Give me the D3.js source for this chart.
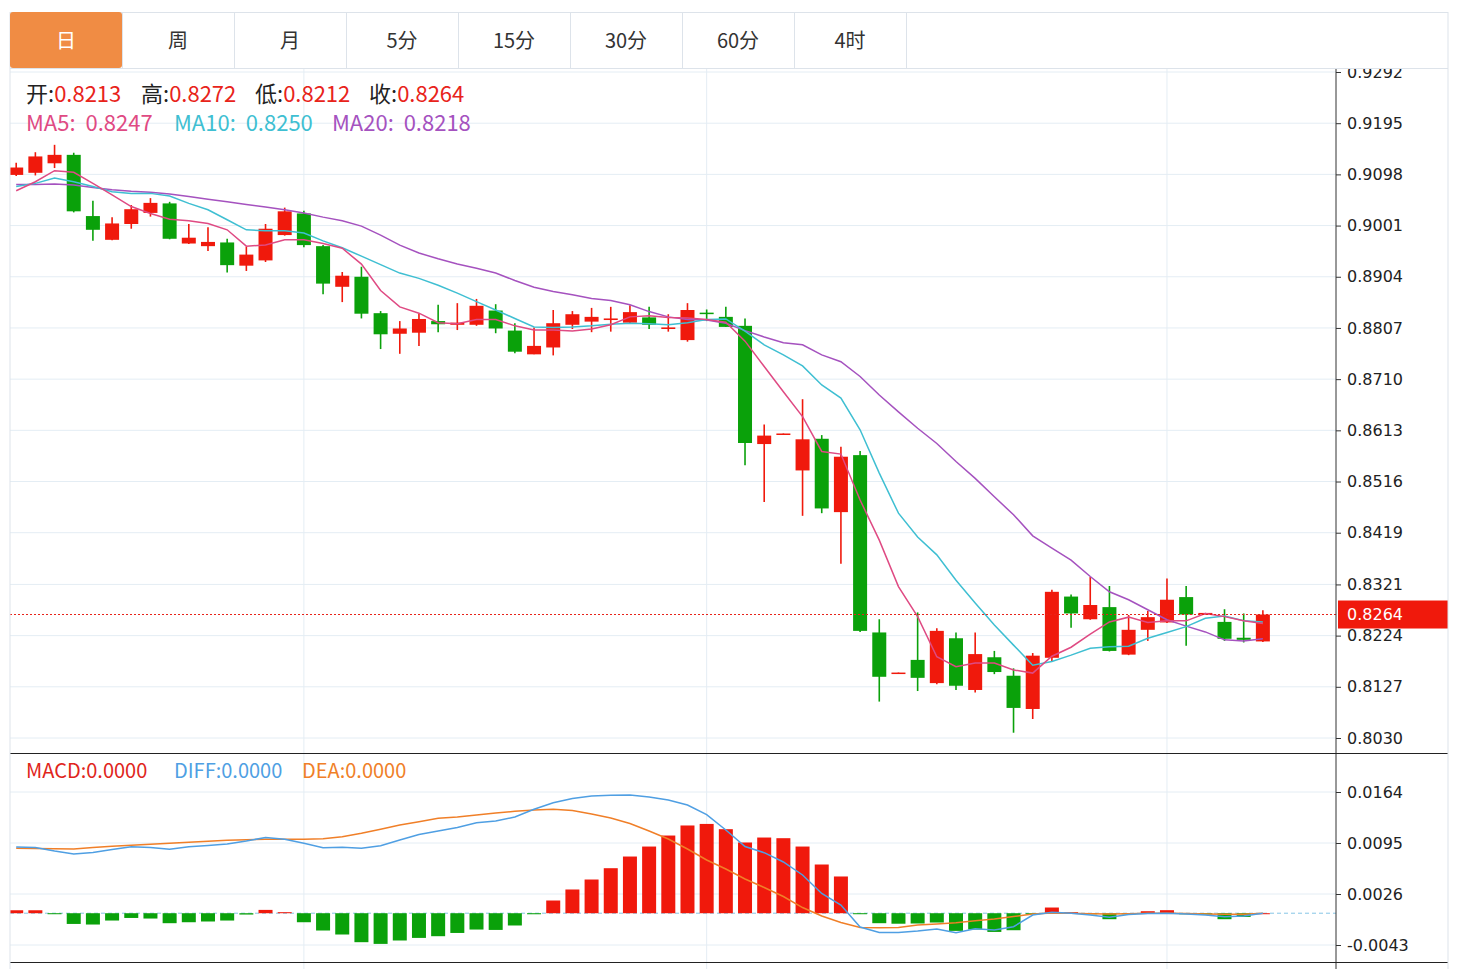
<!DOCTYPE html>
<html>
<head>
<meta charset="utf-8">
<script src="https://cdn.jsdelivr.net/npm/d3@7"></script>
<style>
  body { margin: 0; background: #fff; }
  svg { display: block; }
</style>
</head>
<body>
<script>
var tabs = ['日', '周', '月', '5分', '15分', '30分', '60分', '4时']

var opens = [0.9097,0.9101,0.9119,0.9135,0.9019,0.8974,0.9004,0.9025,0.9043,0.8967,
  0.8962,0.8969,0.8925,0.8935,0.8983,0.9024,0.8962,0.8885,0.8904,0.8835,
  0.8796,0.8798,0.8820,0.8813,0.8813,0.8840,0.8802,0.8757,0.8770,0.8813,
  0.8819,0.8822,0.8817,0.8827,0.8805,0.8784,0.8836,0.8828,0.8811,0.8587,
  0.8606,0.8537,0.8597,0.8458,0.8566,0.8230,0.8152,0.8178,0.8134,0.8219,
  0.8121,0.8183,0.8148,0.8085,0.8182,0.8298,0.8255,0.8278,0.8188,0.8235,
  0.8249,0.8297,0.8264,0.8250,0.8220,0.8213]
var highs = [0.9120,0.9140,0.9154,0.9139,0.9048,0.9017,0.9040,0.9053,0.9046,0.9004,
  0.8998,0.8976,0.8961,0.9004,0.9035,0.9029,0.8964,0.8913,0.8923,0.8839,
  0.8820,0.8834,0.8851,0.8854,0.8862,0.8852,0.8816,0.8808,0.8841,0.8839,
  0.8845,0.8847,0.8850,0.8847,0.8833,0.8854,0.8842,0.8847,0.8825,0.8624,
  0.8607,0.8672,0.8604,0.8582,0.8574,0.8255,0.8154,0.8268,0.8238,0.8230,
  0.8230,0.8195,0.8162,0.8191,0.8311,0.8302,0.8335,0.8318,0.8263,0.8271,
  0.8332,0.8318,0.8267,0.8274,0.8266,0.8272]
var lows = [0.9095,0.9096,0.9110,0.9026,0.8972,0.8973,0.8995,0.9018,0.8975,0.8966,
  0.8953,0.8912,0.8915,0.8932,0.8982,0.8960,0.8871,0.8856,0.8825,0.8767,
  0.8758,0.8773,0.8799,0.8803,0.8811,0.8797,0.8759,0.8757,0.8755,0.8805,
  0.8799,0.8800,0.8816,0.8805,0.8800,0.8781,0.8820,0.8809,0.8547,0.8477,
  0.8606,0.8451,0.8456,0.8360,0.8231,0.8099,0.8152,0.8119,0.8132,0.8121,
  0.8116,0.8151,0.8040,0.8066,0.8175,0.8239,0.8254,0.8194,0.8187,0.8214,
  0.8248,0.8205,0.8264,0.8214,0.8211,0.8212]
var closes = [0.9111,0.9132,0.9135,0.9028,0.8993,0.9005,0.9032,0.9044,0.8976,0.8978,
  0.8970,0.8926,0.8946,0.8995,0.9028,0.8964,0.8891,0.8906,0.8834,0.8795,
  0.8806,0.8824,0.8814,0.8817,0.8849,0.8806,0.8762,0.8773,0.8816,0.8833,
  0.8828,0.8825,0.8837,0.8813,0.8808,0.8841,0.8834,0.8809,0.8589,0.8603,
  0.8607,0.8596,0.8465,0.8563,0.8233,0.8146,0.8154,0.8144,0.8233,0.8129,
  0.8189,0.8155,0.8087,0.8186,0.8307,0.8266,0.8282,0.8195,0.8235,0.8259,
  0.8292,0.8264,0.8267,0.8218,0.8216,0.8264]

var ma5 = [0.9067,0.9084,0.9105,0.9102,0.9081,0.9059,0.9037,0.9024,0.9013,0.9010,
  0.9005,0.8993,0.8962,0.8964,0.8974,0.8974,0.8967,0.8958,0.8928,0.8878,
  0.8847,0.8835,0.8817,0.8815,0.8823,0.8823,0.8811,0.8803,0.8803,0.8801,
  0.8805,0.8813,0.8828,0.8830,0.8827,0.8826,0.8823,0.8818,0.8782,0.8734,
  0.8686,0.8639,0.8573,0.8568,0.8481,0.8405,0.8317,0.8260,0.8184,0.8165,
  0.8172,0.8172,0.8159,0.8153,0.8185,0.8202,0.8227,0.8250,0.8259,0.8249,
  0.8252,0.8252,0.8266,0.8260,0.8252,0.8247]
var ma10 = [0.9075,0.9081,0.9091,0.9084,0.9075,0.9065,0.9062,0.9062,0.9057,0.9043,
  0.9031,0.9012,0.8993,0.8991,0.8991,0.8987,0.8972,0.8959,0.8943,0.8927,
  0.8911,0.8901,0.8888,0.8873,0.8857,0.8841,0.8825,0.8809,0.8808,0.8809,
  0.8811,0.8814,0.8816,0.8815,0.8813,0.8817,0.8823,0.8824,0.8801,0.8775,
  0.8756,0.8735,0.8699,0.8674,0.8614,0.8532,0.8456,0.8411,0.8377,0.8329,
  0.8286,0.8244,0.8206,0.8168,0.8175,0.8187,0.8200,0.8203,0.8204,0.8219,
  0.8230,0.8241,0.8257,0.8261,0.8252,0.8250]
var ma20 = [0.9079,0.9079,0.9080,0.9078,0.9073,0.9069,0.9066,0.9064,0.9061,0.9056,
  0.9051,0.9046,0.9041,0.9036,0.9031,0.9025,0.9017,0.9010,0.9000,0.8983,
  0.8964,0.8949,0.8938,0.8928,0.8920,0.8911,0.8897,0.8884,0.8876,0.8870,
  0.8863,0.8859,0.8851,0.8838,0.8828,0.8823,0.8822,0.8816,0.8802,0.8790,
  0.8779,0.8775,0.8756,0.8743,0.8715,0.8680,0.8648,0.8617,0.8588,0.8554,
  0.8522,0.8487,0.8453,0.8413,0.8390,0.8367,0.8336,0.8307,0.8292,0.8273,
  0.8254,0.8242,0.8231,0.8216,0.8214,0.8218]

var diff = [0.00896,0.00889,0.00842,0.00801,0.00821,0.00862,0.00900,0.00889,0.00865,0.00900,
  0.00916,0.00936,0.00977,0.01024,0.01000,0.00946,0.00886,0.00892,0.00878,0.00913,
  0.00990,0.01065,0.01112,0.01160,0.01224,0.01247,0.01302,0.01406,0.01495,0.01552,
  0.01586,0.01595,0.01599,0.01572,0.01532,0.01464,0.01335,0.01126,0.00902,0.00819,
  0.00693,0.00517,0.00267,0.00111,-0.00187,-0.00261,-0.00261,-0.00241,-0.00214,-0.00264,
  -0.00210,-0.00227,-0.00183,-0.00024,0.00012,-0.00001,-0.00024,-0.00055,-0.00018,-0.00004,
  -0.00001,-0.00011,-0.00024,-0.00047,-0.00038,0]
var dea = [0.00878,0.00875,0.00871,0.00869,0.00889,0.00905,0.00920,0.00932,0.00946,0.00959,
  0.00973,0.00986,0.00993,0.01000,0.01000,0.01000,0.01008,0.01035,0.01081,0.01135,
  0.01193,0.01238,0.01284,0.01302,0.01329,0.01356,0.01379,0.01396,0.01406,0.01390,
  0.01342,0.01288,0.01214,0.01112,0.01004,0.00869,0.00720,0.00598,0.00463,0.00348,
  0.00226,0.00077,-0.00038,-0.00126,-0.00193,-0.00196,-0.00193,-0.00160,-0.00146,-0.00129,
  -0.00103,-0.00078,-0.00045,-0.00011,0.00003,-0.00001,-0.00007,-0.00011,-0.00008,-0.00001,
  -0.00001,-0.00004,-0.00011,-0.00014,-0.00015,0]
var macd = [0.0004,0.0004,-0.0001,-0.00145,-0.00153,-0.00099,-0.00064,-0.00072,-0.00135,-0.00122,
  -0.00112,-0.00099,-0.00018,0.00045,0.00014,-0.00122,-0.00234,-0.00288,-0.00392,-0.00415,
  -0.00369,-0.00334,-0.00311,-0.00267,-0.00221,-0.00226,-0.00166,-0.00014,0.00172,0.00321,
  0.00456,0.00609,0.00767,0.00902,0.01051,0.01187,0.01208,0.01137,0.00957,0.01024,
  0.01015,0.00902,0.00659,0.00497,-0.00007,-0.00135,-0.00142,-0.00139,-0.00126,-0.00239,
  -0.00221,-0.00253,-0.00230,-0.00014,0.00077,0.00014,-0.00014,-0.00081,-0.00014,0.00027,
  0.00041,-0.00014,-0.00018,-0.00081,-0.00050,0]

var priceTicks = [0.9292,0.9195,0.9098,0.9001,0.8904,0.8807,0.8710,0.8613,0.8516,0.8419,0.8321,0.8224,0.8127,0.8030]
var macdTicks = [0.0164,0.0095,0.0026,-0.0043]
var gridIdx = [15, 36, 60]

var RED = '#f0190c', GREEN = '#0aa10a'
var C_MA5 = '#df4a83', C_MA10 = '#3fbfd2', C_MA20 = '#a552bf'
var C_DIFF = '#4f9fe3', C_DEA = '#f07f28', C_MACD = '#e0251b'

// layout
var W = 1475, H = 969
var left = 10, right = 1336, frameR = 1448
var mainTop = 68, mainBot = 753, macdBot = 963
var n = closes.length

var svg = d3.select('body').append('svg')
  .attr('width', W).attr('height', H)
  .style('font-family', '"Noto Sans CJK SC", "Noto Sans", sans-serif')

var x = d3.scaleLinear().domain([-0.5, 68.5]).range([6.6, 1330])
var y = d3.scaleLinear().domain([0.8030, 0.9292]).range([738, 72])
var ym = d3.scaleLinear().domain([-0.0043, 0.0164]).range([945, 792])

var defs = svg.append('defs')
defs.append('clipPath').attr('id', 'clipMain').append('rect')
  .attr('x', left).attr('y', mainTop).attr('width', right - left).attr('height', mainBot - mainTop)
defs.append('clipPath').attr('id', 'clipMacd').append('rect')
  .attr('x', left).attr('y', mainBot + 1).attr('width', right - left).attr('height', macdBot - mainBot - 1)

// grid
var grid = svg.append('g').attr('stroke', '#e4edf4').attr('stroke-width', 1)
priceTicks.forEach(function (t) {
  grid.append('line').attr('x1', left).attr('x2', right).attr('y1', y(t)).attr('y2', y(t))
})
macdTicks.forEach(function (t) {
  grid.append('line').attr('x1', left).attr('x2', right).attr('y1', ym(t)).attr('y2', ym(t))
})
gridIdx.forEach(function (i) {
  grid.append('line').attr('x1', x(i)).attr('x2', x(i)).attr('y1', mainTop).attr('y2', H)
})

// candles
var candles = closes.map(function (c, i) {
  return { i: i, o: opens[i], h: highs[i], l: lows[i], c: c }
})
var main = svg.append('g').attr('clip-path', 'url(#clipMain)')
var cg = main.selectAll('.candle').data(candles).enter().append('g')
  .attr('class', 'candle')
  .attr('fill', function (d) { return d.c >= d.o ? RED : GREEN })
  .attr('stroke', function (d) { return d.c >= d.o ? RED : GREEN })
cg.append('line')
  .attr('x1', function (d) { return x(d.i) }).attr('x2', function (d) { return x(d.i) })
  .attr('y1', function (d) { return y(d.h) }).attr('y2', function (d) { return y(d.l) })
  .attr('stroke-width', 1.6)
cg.append('rect')
  .attr('x', function (d) { return x(d.i) - 7 })
  .attr('width', 14)
  .attr('y', function (d) { return y(Math.max(d.o, d.c)) })
  .attr('height', function (d) { return Math.max(1.5, Math.abs(y(d.o) - y(d.c))) })
  .attr('stroke', 'none')

var line = d3.line().x(function (d, i) { return x(i) }).y(function (d) { return y(d) })
;[[ma20, C_MA20], [ma10, C_MA10], [ma5, C_MA5]].forEach(function (m) {
  main.append('path').datum(m[0]).attr('d', line)
    .attr('fill', 'none').attr('stroke', m[1]).attr('stroke-width', 1.5)
})

// last price line
var lastClose = closes[n - 1]
svg.append('line').attr('x1', left).attr('x2', right)
  .attr('y1', y(lastClose)).attr('y2', y(lastClose))
  .attr('stroke', '#e8231a').attr('stroke-width', 1.2).attr('stroke-dasharray', '2,2')

// macd panel
var mg = svg.append('g').attr('clip-path', 'url(#clipMacd)')
mg.append('line').attr('x1', left).attr('x2', right).attr('y1', ym(0)).attr('y2', ym(0))
  .attr('stroke', '#86c6e6').attr('stroke-width', 1).attr('stroke-dasharray', '4,3')
mg.selectAll('.bar').data(macd).enter().append('rect')
  .attr('x', function (d, i) { return x(i) - 7 })
  .attr('width', 14)
  .attr('y', function (d) { return ym(Math.max(0, d)) })
  .attr('height', function (d) { return Math.max(1, Math.abs(ym(d) - ym(0))) })
  .attr('fill', function (d) { return d >= 0 ? RED : GREEN })
var lineM = d3.line().x(function (d, i) { return x(i) }).y(function (d) { return ym(d) })
mg.append('path').datum(dea).attr('d', lineM).attr('fill', 'none').attr('stroke', C_DEA).attr('stroke-width', 1.5)
mg.append('path').datum(diff).attr('d', lineM).attr('fill', 'none').attr('stroke', C_DIFF).attr('stroke-width', 1.5)

// right axes
var axisFont = '"DejaVu Sans", Verdana, sans-serif'
var ax = svg.append('g').attr('transform', 'translate(' + right + ',0)')
  .call(d3.axisRight(y).tickValues(priceTicks).tickFormat(d3.format('.4f')).tickSize(5).tickPadding(6))
var axm = svg.append('g').attr('transform', 'translate(' + right + ',0)')
  .call(d3.axisRight(ym).tickValues(macdTicks).tickFormat(d3.format('.4f')).tickSize(5).tickPadding(6))
;[ax, axm].forEach(function (a) {
  a.select('.domain').remove()
  a.selectAll('text').attr('font-family', axisFont).attr('font-size', 16).attr('fill', '#222')
  a.selectAll('.tick line').attr('stroke', '#333')
})
// minus sign as a hyphen like the original
axm.selectAll('text').text(function (d) { return d3.format('.4f')(d).replace('−', '-') })

// price tag
var tag = svg.append('g')
tag.append('rect').attr('x', right + 2).attr('y', y(lastClose) - 14).attr('width', frameR - right - 2).attr('height', 28).attr('fill', '#f0190c')
tag.append('text').attr('x', right + 11).attr('y', y(lastClose)).attr('dy', '0.35em')
  .attr('font-family', axisFont).attr('font-size', 16).attr('fill', '#fff').text(d3.format('.4f')(lastClose))

// frame lines
var frame = svg.append('g')
frame.append('line').attr('x1', right).attr('x2', right).attr('y1', mainTop).attr('y2', H).attr('stroke', '#333')
frame.append('line').attr('x1', left).attr('x2', frameR).attr('y1', mainBot + 0.5).attr('y2', mainBot + 0.5).attr('stroke', '#222')
frame.append('line').attr('x1', left).attr('x2', frameR).attr('y1', macdBot - 0.5).attr('y2', macdBot - 0.5).attr('stroke', '#222')
frame.append('line').attr('x1', left).attr('x2', left).attr('y1', 12).attr('y2', H).attr('stroke', '#dde3ea')
frame.append('line').attr('x1', frameR).attr('x2', frameR).attr('y1', 12).attr('y2', H).attr('stroke', '#dde3ea')

// tabs on top
var tabW = 112
var tb = svg.append('g')
tb.append('rect').attr('x', 0).attr('y', 0).attr('width', W).attr('height', mainTop).attr('fill', '#fff')
tb.append('line').attr('x1', left).attr('x2', frameR).attr('y1', 12.5).attr('y2', 12.5).attr('stroke', '#dde3ea')
tb.append('line').attr('x1', left).attr('x2', frameR).attr('y1', mainTop + 0.5).attr('y2', mainTop + 0.5).attr('stroke', '#dde3ea')
tb.append('line').attr('x1', left).attr('x2', left).attr('y1', 12).attr('y2', mainTop).attr('stroke', '#dde3ea')
tb.append('line').attr('x1', frameR).attr('x2', frameR).attr('y1', 12).attr('y2', mainTop).attr('stroke', '#dde3ea')
tabs.forEach(function (t, i) {
  var x0 = left + i * tabW
  if (i === 0) {
    tb.append('rect').attr('x', x0).attr('y', 12).attr('width', tabW).attr('height', mainTop - 12)
      .attr('rx', 3).attr('fill', '#f08c44')
  }
  tb.append('line').attr('x1', x0 + tabW + 0.5).attr('x2', x0 + tabW + 0.5).attr('y1', 12).attr('y2', mainTop)
    .attr('stroke', '#dde3ea')
  tb.append('text').attr('x', x0 + tabW / 2).attr('y', 41).attr('dy', '0.35em')
    .attr('text-anchor', 'middle').attr('font-size', 20)
    .attr('fill', i === 0 ? '#fff' : '#333').text(t)
})

// legends
var f4 = d3.format('.4f')
var ohlc = [['开', opens[n - 1], 26], ['高', highs[n - 1], 141], ['低', lows[n - 1], 255], ['收', closes[n - 1], 369]]
ohlc.forEach(function (o) {
  var t = svg.append('text').attr('x', o[2]).attr('y', 102).attr('font-size', 22)
  t.append('tspan').attr('fill', '#222').text(o[0] + ':')
  t.append('tspan').attr('fill', '#e8231a').text(f4(o[1]))
})
var maLeg = [['MA5', ma5, C_MA5, 26], ['MA10', ma10, C_MA10, 174], ['MA20', ma20, C_MA20, 332]]
maLeg.forEach(function (m) {
  svg.append('text').attr('x', m[3]).attr('y', 131).attr('font-size', 22).attr('fill', m[2])
    .text(m[0] + ':\u00a0\u00a0' + f4(m[1][n - 1]))
})
var mLeg = [['MACD', macd, C_MACD, 26], ['DIFF', diff, C_DIFF, 174], ['DEA', dea, C_DEA, 302]]
mLeg.forEach(function (m) {
  svg.append('text').attr('x', m[3]).attr('y', 778).attr('font-size', 20).attr('fill', m[2])
    .text(m[0] + ':' + f4(m[1][n - 1]))
})
</script>
</body>
</html>
